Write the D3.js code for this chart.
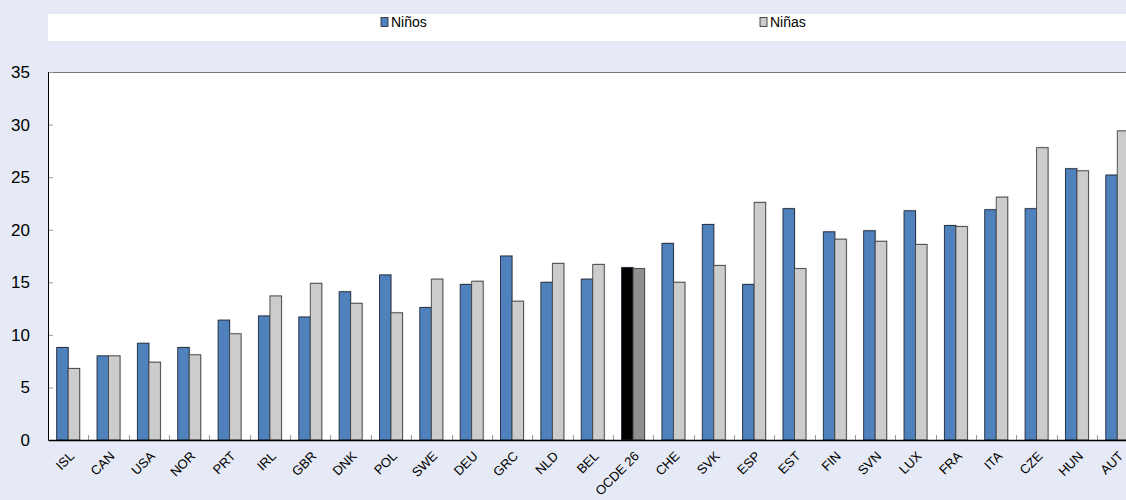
<!DOCTYPE html>
<html>
<head>
<meta charset="utf-8">
<script src="https://cdn.jsdelivr.net/npm/d3@7"></script>
<style>
  html, body { margin: 0; padding: 0; background: #E6EAF6; }
  svg { display: block; font-family: "Liberation Sans", Arial, sans-serif; }
</style>
</head>
<body>
<svg id="chart" width="1126" height="500"></svg>
<script>
// Countries, ordered as shown on the axis
const categories = ["ISL","CAN","USA","NOR","PRT","IRL","GBR","DNK","POL","SWE","DEU","GRC","NLD","BEL","OCDE 26","CHE","SVK","ESP","EST","FIN","SVN","LUX","FRA","ITA","CZE","HUN","AUT"];
// Values for boys (Niños)
const boys  = [8.8, 8.0, 9.2, 8.8, 11.4, 11.8, 11.7, 14.1, 15.7, 12.6, 14.8, 17.5, 15.0, 15.3, 16.4, 18.7, 20.5, 14.8, 22.0, 19.8, 19.9, 21.8, 20.4, 21.9, 22.0, 25.8, 25.2];
// Values for girls (Niñas)
const girls = [6.8, 8.0, 7.4, 8.1, 10.1, 13.7, 14.9, 13.0, 12.1, 15.3, 15.1, 13.2, 16.8, 16.7, 16.3, 15.0, 16.6, 22.6, 16.3, 19.1, 18.9, 18.6, 20.3, 23.1, 27.8, 25.6, 29.4];
const seriesNames = ["Niños", "Niñas"];
const yTicks = [0, 5, 10, 15, 20, 25, 30, 35];

const svg = d3.select("#chart");
const plotLeft = 48, plotTop = 72, plotBottom = 440;
const band = 40.35;
const plotRight = plotLeft + band * categories.length;

// Legend strip
svg.append("rect").attr("x", 48).attr("y", 14).attr("width", 1126 - 48).attr("height", 27).attr("fill", "#fff");
const legendItems = [
  { name: seriesNames[0], fill: "#4F81BD", x: 381 },
  { name: seriesNames[1], fill: "#CCCCCC", x: 760 }
];
legendItems.forEach(d => {
  svg.append("rect").attr("x", d.x).attr("y", 17.5).attr("width", 7).attr("height", 9)
    .attr("fill", d.fill).attr("stroke", "#222").attr("stroke-width", 0.8);
  svg.append("text").attr("x", d.x + 10).attr("y", 27).attr("font-size", 14).attr("fill", "#000").text(d.name);
});

// Plot area
svg.append("rect").attr("x", plotLeft).attr("y", plotTop).attr("width", plotRight - plotLeft).attr("height", plotBottom - plotTop).attr("fill", "#fff");
svg.append("line").attr("x1", plotLeft).attr("x2", plotRight).attr("y1", plotTop + 0.5).attr("y2", plotTop + 0.5)
  .attr("stroke", "#777").attr("stroke-width", 1);

const x = d3.scaleBand().domain(categories).range([plotLeft, plotRight]).paddingInner(0).paddingOuter(0);
const y = d3.scaleLinear().domain([0, 35]).range([plotBottom, plotTop]);
const barW = 11.5;

const rows = categories.map((c, i) => ({ c, b: boys[i], g: girls[i] }));

// Soft shadow behind each bar
const shadow = svg.append("g").attr("fill", "#bbb");
rows.forEach(d => {
  const cx = x(d.c) + x.bandwidth() / 2;
  shadow.append("rect").attr("x", cx - barW + 1).attr("y", y(d.b) - 1).attr("width", barW).attr("height", plotBottom - y(d.b) + 1).attr("opacity", 0.6);
  shadow.append("rect").attr("x", cx + 1).attr("y", y(d.g) - 1).attr("width", barW).attr("height", plotBottom - y(d.g) + 1).attr("opacity", 0.6);
});

const bars = svg.append("g");
rows.forEach(d => {
  const cx = x(d.c) + x.bandwidth() / 2;
  const isAvg = d.c === "OCDE 26";
  bars.append("rect").attr("x", cx - barW).attr("y", y(d.b)).attr("width", barW).attr("height", plotBottom - y(d.b))
    .attr("fill", isAvg ? "#000" : "#4F81BD").attr("stroke", "#1f2a3a").attr("stroke-width", 0.9);
  bars.append("rect").attr("x", cx).attr("y", y(d.g)).attr("width", barW).attr("height", plotBottom - y(d.g))
    .attr("fill", isAvg ? "#8F8F8F" : "#CCCCCC").attr("stroke", "#444").attr("stroke-width", 0.9);
});

// Y axis
const yAxis = svg.append("g").attr("transform", `translate(${plotLeft},0)`)
  .call(d3.axisRight(y).tickValues(yTicks).tickSize(5).tickFormat(d3.format("d")));
yAxis.select(".domain").remove();
yAxis.selectAll(".tick line").attr("stroke", "#999");
yAxis.selectAll(".tick text").attr("x", -18).attr("text-anchor", "end")
  .attr("font-size", 17).attr("fill", "#000").attr("font-family", "Liberation Sans, Arial, sans-serif");
svg.append("line").attr("x1", plotLeft + 0.5).attr("x2", plotLeft + 0.5).attr("y1", plotTop).attr("y2", plotBottom).attr("stroke", "#000").attr("stroke-width", 1);

// Category separators along the base
const sep = svg.append("g");
categories.slice(1).forEach(c => {
  const sx = Math.round(x(c)) + 0.5;
  sep.append("line").attr("x1", sx).attr("x2", sx).attr("y1", plotBottom).attr("y2", plotBottom - 5).attr("stroke", "#999");
});

// X axis baseline (labels drawn separately, rotated)
const xAxis = svg.append("g").attr("transform", `translate(0,${plotBottom})`)
  .call(d3.axisBottom(x).tickSize(0).tickFormat(""));
xAxis.select(".domain").attr("stroke", "#000").attr("stroke-width", 1.5);

const labels = svg.append("g");
categories.forEach(c => {
  const cx = x(c) + x.bandwidth() / 2;
  labels.append("g")
    .attr("transform", `translate(${cx},${plotBottom + 10}) rotate(-45)`)
    .append("text")
    .attr("x", 0).attr("y", 0).attr("dy", "0.75em")
    .attr("text-anchor", "end")
    .attr("font-size", 13).attr("fill", "#000")
    .text(c);
});
</script>
</body>
</html>
